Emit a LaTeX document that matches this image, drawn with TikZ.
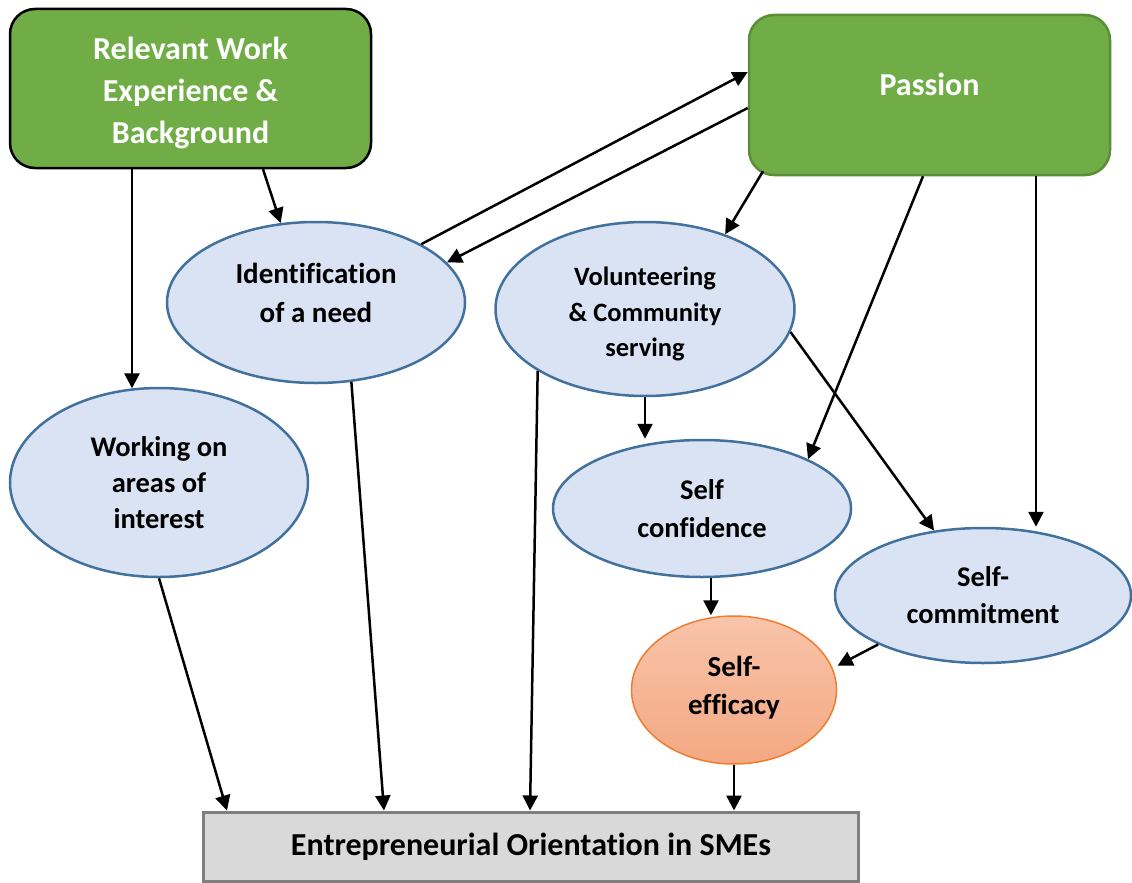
\documentclass[tikz,border=0pt]{standalone}
\usepackage{fontspec}
\setmainfont{Carlito}[Ligatures=NoCommon]
\usetikzlibrary{arrows.meta,shapes.geometric}
\definecolor{grn}{HTML}{70AD47}
\definecolor{grnb}{HTML}{5A8F38}
\definecolor{efill}{HTML}{DAE3F3}
\definecolor{ebord}{HTML}{41719C}
\definecolor{obord}{HTML}{ED7D31}
\definecolor{otop}{RGB}{248,196,170}
\definecolor{obot}{RGB}{244,168,130}
\definecolor{gfill}{HTML}{D9D9D9}
\definecolor{gbord}{HTML}{7F7F7F}
\tikzset{
  greenbox/.style={draw, rounded corners=25pt, fill=grn, line width=2.5pt,
    minimum width=361pt, minimum height=159pt, inner sep=0pt},
  whitetext/.style={text=white, inner sep=0pt, align=center,
    font=\bfseries\fontsize{32}{42}\selectfont},
  bubble/.style={ellipse, draw=ebord, fill=efill, line width=2.5pt, inner sep=0pt,
    align=center, font=\bfseries\fontsize{28.5}{37}\selectfont},
  label text/.style={inner sep=0pt, align=center},
  arr/.style={line width=2.5pt, -{Triangle[length=15pt,width=15pt]}},
}
\begin{document}
\begin{tikzpicture}[x=1pt,y=-1pt]
\useasboundingbox (0,0) rectangle (1132,883);
% nodes
\node[greenbox] (box1) at (190.5,88.5) {};
\node[whitetext] (box1text) at (190.5,92.5) {Relevant Work\\Experience \&\\Background};
\node[greenbox, draw=grnb, minimum height=160pt] (passion) at (929.5,95) {};
\node[whitetext] (ptext) at (929.5,84) {Passion};
\node[bubble, minimum width=298pt, minimum height=161pt] (idn) at (316,302.5) {};
\node[label text, font=\bfseries\fontsize{29}{39}\selectfont] (idntext) at (316,293) {Identification\\of a need};
\node[bubble, minimum width=299pt, minimum height=174pt] (vol) at (645,309) {};
\node[label text, font=\bfseries\fontsize{26.5}{35.5}\selectfont] (voltext) at (645,314) {Volunteering\\\& Community\\serving};
\node[bubble, minimum width=298pt, minimum height=189pt, font=\bfseries\fontsize{28.5}{36}\selectfont] (work) at (159,482.5) {Working on\\areas of\\interest};
\node[bubble, minimum width=298pt, minimum height=137pt, font=\bfseries\fontsize{28.5}{38}\selectfont] (conf) at (702,508.5) {Self\\confidence};
\node[bubble, minimum width=296pt, minimum height=135pt, font=\bfseries\fontsize{28.5}{37}\selectfont] (comm) at (983,595.5) {Self-\\commitment};
\node[ellipse, draw=obord, line width=1.5pt, top color=otop, bottom color=obot,
  minimum width=205pt, minimum height=148pt, inner sep=0pt] (eff) at (734,690) {};
\node[label text, font=\bfseries\fontsize{29}{38}\selectfont] (efftext) at (734,687.5) {Self-\\efficacy};
\node[draw=gbord, fill=gfill, line width=3pt, minimum width=655pt, minimum height=69pt,
  inner sep=0pt, font=\bfseries\fontsize{32}{34}\selectfont] (eo) at (531,846.5) {Entrepreneurial Orientation in SMEs};
% connectors
\draw[arr] (work.106.8 |- box1.south) -- (work.106.8);
\draw[arr] ([xshift=72.5pt]box1.south) -- (idn.114.8);
\draw[arr] (idn.29.6) -- ([yshift=23pt]passion.west);
\draw[arr] ([yshift=-13pt]passion.west) -- (idn.17.8);
\draw[arr] ([shift={(-166.5pt,5pt)}]passion.south) -- (vol.43.5);
\draw[arr] ([xshift=-6.5pt]passion.south) -- (conf.25.5);
\coordinate (pc) at ([xshift=106.5pt]passion.south);
\draw[arr] (pc) -- (pc |- comm.north);
\draw[arr] (vol.-9.5) -- (comm.127.8);
\draw[arr] (vol.south) -- (vol.south |- conf.north);
\coordinate (cs) at ([xshift=9pt]conf.south);
\draw[arr] (cs) -- (cs |- eff.north);
\draw[arr] (comm.205.7) -- ([xshift=6pt]eff.14.6);
\draw[arr] (work.south) -- ([xshift=25pt]eo.north west);
\draw[arr] (idn.-66.6) -- ([xshift=182pt]eo.north west);
\draw[arr] (vol.210.6) -- ([xshift=328pt]eo.north west);
\draw[arr] (eff.south) -- (eff.south |- eo.north);
\end{tikzpicture}
\end{document}
